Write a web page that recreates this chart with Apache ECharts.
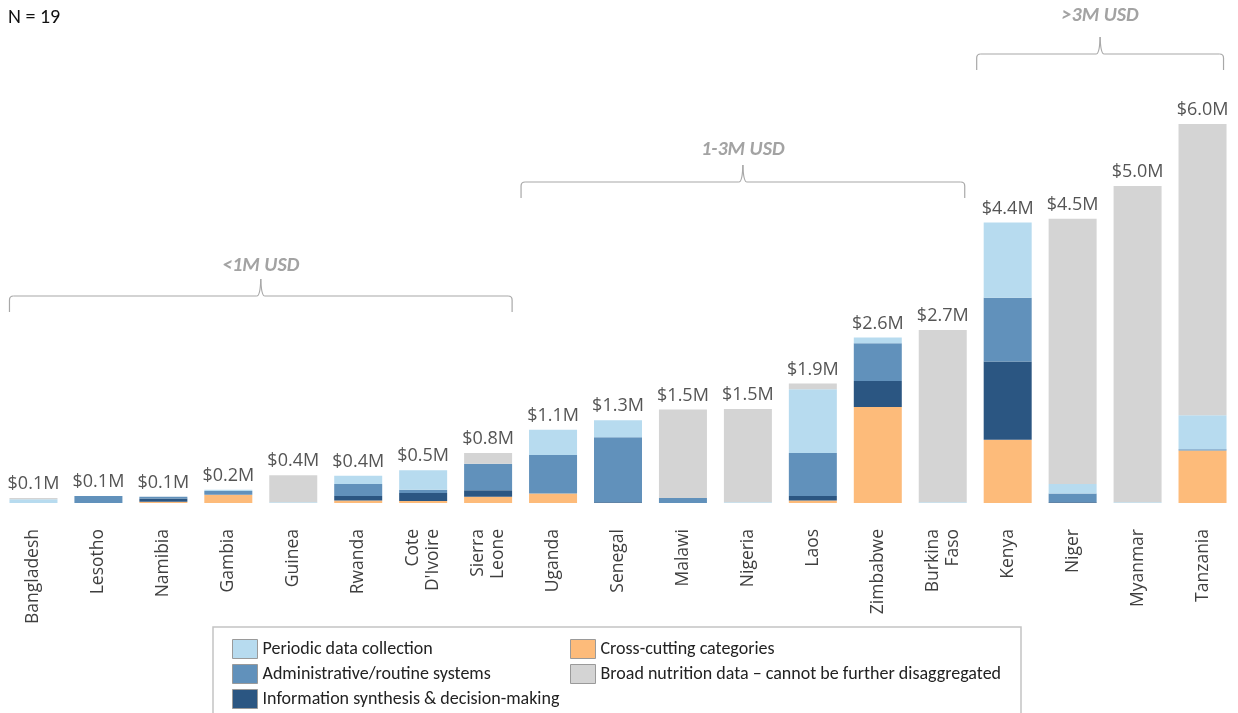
<!DOCTYPE html>
<html>
<head>
<meta charset="utf-8">
<script src="https://cdn.jsdelivr.net/npm/echarts@6/dist/echarts.min.js"></script>
<style>
html,body{margin:0;padding:0;background:#fff;}
#chart{width:1238px;height:713px;}
</style>
</head>
<body>
<div id="chart"></div>
<script>
const categories = ['Bangladesh','Lesotho','Namibia','Gambia','Guinea','Rwanda',"Cote\nD'Ivoire",'Sierra\nLeone','Uganda','Senegal','Malawi','Nigeria','Laos','Zimbabwe','Burkina\nFaso','Kenya','Niger','Myanmar','Tanzania'];
const crossCutting = [0, 0, 0.02, 0.13, 0, 0.04, 0.03, 0.10, 0.15, 0, 0, 0, 0.04, 1.52, 0, 1.00, 0, 0, 0.83];
const infoSynthesis = [0, 0, 0.05, 0, 0, 0.07, 0.13, 0.10, 0, 0.01, 0, 0, 0.07, 0.41, 0, 1.24, 0.01, 0, 0];
const adminSystems = [0, 0.11, 0.03, 0.06, 0, 0.19, 0.05, 0.42, 0.61, 1.03, 0.08, 0, 0.68, 0.60, 0, 1.01, 0.14, 0, 0.02];
const periodicData = [0.06, 0, 0, 0.02, 0.01, 0.13, 0.31, 0, 0.40, 0.27, 0, 0.01, 1.01, 0.09, 0.01, 1.19, 0.15, 0.01, 0.54];
const broadData = [0.02, 0, 0, 0, 0.43, 0, 0, 0.17, 0, 0, 1.40, 1.48, 0.09, 0, 2.73, 0, 4.20, 5.01, 4.61];
const totalLabels = [0.1, 0.1, 0.1, 0.2, 0.4, 0.4, 0.5, 0.8, 1.1, 1.3, 1.5, 1.5, 1.9, 2.6, 2.7, 4.4, 4.5, 5.0, 6.0];
const groups = [
  {label: '<1M USD', from: 0, to: 7},
  {label: '1-3M USD', from: 8, to: 14},
  {label: '>3M USD', from: 15, to: 18}
];

const names = ['Cross-cutting categories','Information synthesis & decision-making','Administrative/routine systems','Periodic data collection','Broad nutrition data \u2013 cannot be further disaggregated'];
const colors = ['#fdbb7a','#2b5682','#6191bb','#b7dbef','#d4d4d4'];
const seriesData = [crossCutting, infoSynthesis, adminSystems, periodicData, broadData];
const totals = categories.map((c,i)=> seriesData.reduce((s,a)=>s+a[i],0));

const narrow = "Carlito, 'Liberation Sans Narrow', 'DejaVu Sans Condensed', sans-serif";
const BAR_W = 48;

const chart = echarts.init(document.getElementById('chart'));
const series = seriesData.map((d,k)=>({
  name: names[k], type: 'bar', stack: 'all', data: d, barWidth: BAR_W,
  itemStyle: {color: colors[k]}, emphasis: {disabled: true}
}));
series.push({
  name: 'total', type: 'bar', data: totals, barWidth: BAR_W, barGap: '-100%', z: 1,
  itemStyle: {color: 'rgba(0,0,0,0)'},
  label: {show: true, position: 'top', distance: 5, fontSize: 18, fontFamily: 'Open Sans', color: '#555',
    formatter: p => '$' + totalLabels[p.dataIndex].toFixed(1) + 'M'},
  emphasis: {disabled: true}, silent: true
});

const legendCommon = {
  orient: 'vertical', itemWidth: 25, itemHeight: 19, itemGap: 5, icon: 'rect', padding: 0,
  itemStyle: {borderColor: '#9a9a9a', borderWidth: 1},
  textStyle: {fontSize: 18, fontFamily: narrow, color: '#222', padding: [0,0,0,0]},
  selectedMode: false
};

chart.setOption({
  animation: false,
  grid: {left: 1, right: 3, top: 124, bottom: 210, containLabel: false},
  xAxis: {type: 'category', data: categories,
    axisLine: {show: false}, axisTick: {show: false},
    axisLabel: {interval: 0, rotate: 90, margin: 26, fontSize: 17.5, fontFamily: 'Open Sans', color: '#3f3f3f', lineHeight: 20}},
  yAxis: {type: 'value', min: 0, max: 6, show: false, splitLine: {show: false}},
  legend: [
    Object.assign({left: 232, top: 639, data: [names[3], names[2], names[1]]}, legendCommon),
    Object.assign({left: 570, top: 639, data: [names[0], names[4]]}, legendCommon)
  ],
  series: series
});

const strokeStyle = {stroke: '#a8a8a8', lineWidth: 1.2, fill: 'none'};
function bracketElems(x1, x2, y, drop, tip){
  const xm = (x1 + x2) / 2, r = 4;
  const L = (a,b,c,d)=>({type: 'line', shape: {x1: a, y1: b, x2: c, y2: d}, style: strokeStyle});
  const B = (a,b,c,d,cx,cy)=>({type: 'bezierCurve', shape: {x1: a, y1: b, x2: c, y2: d, cpx1: cx, cpy1: cy}, style: strokeStyle});
  return [
    L(x1, y+drop, x1, y+r), B(x1, y+r, x1+r, y, x1, y),
    L(x1+r, y, xm-4, y), B(xm-4, y, xm, y-tip, xm-0.5, y),
    B(xm, y-tip, xm+4, y, xm+0.5, y), L(xm+4, y, x2-r, y),
    B(x2-r, y, x2, y+r, x2, y), L(x2, y+r, x2, y+drop)
  ];
}

const bracketY = [296, 182, 54];
const labelRise = [30, 32, 38];
const bracketPad = [[0,0],[8,-2],[7,-3]];
const graphics = [
  {type: 'text', left: 8, top: 8, style: {text: 'N = 19', fontSize: 20, fontFamily: narrow, fill: '#111'}},
  {type: 'rect', shape: {x: 213, y: 627, width: 808, height: 100}, style: {fill: 'none', stroke: '#c4c4c4', lineWidth: 1.5}, z: 0}
];
groups.forEach((g, i)=>{
  const xa = chart.convertToPixel({xAxisIndex: 0}, g.from) - BAR_W/2 - bracketPad[i][0];
  const xb = chart.convertToPixel({xAxisIndex: 0}, g.to) + BAR_W/2 + bracketPad[i][1];
  const y = bracketY[i];
  bracketElems(xa, xb, y, 16, 17).forEach(e=>graphics.push(e));
  graphics.push({type: 'text', x: (xa+xb)/2, y: y - labelRise[i],
    style: {text: g.label, fontSize: 20, fontStyle: 'italic', fontWeight: 'bold', fontFamily: narrow,
      fill: '#a3a3a3', align: 'center', verticalAlign: 'middle'}});
});
chart.setOption({graphic: graphics});
</script>
</body>
</html>
